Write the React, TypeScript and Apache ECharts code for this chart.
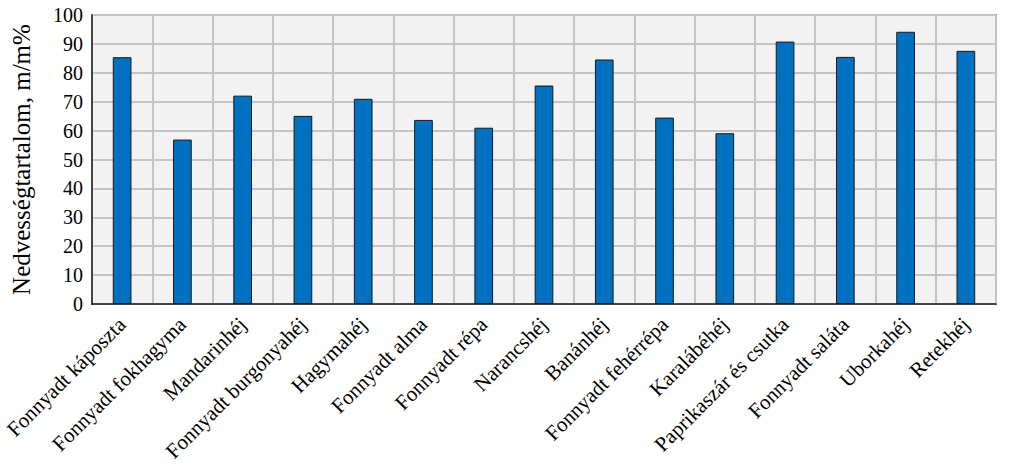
import { useEffect, useRef } from 'react';
import * as echarts from 'echarts';

const categories = [
  'Fonnyadt káposzta',
  'Fonnyadt fokhagyma',
  'Mandarinhéj',
  'Fonnyadt burgonyahéj',
  'Hagymahéj',
  'Fonnyadt alma',
  'Fonnyadt répa',
  'Narancshéj',
  'Banánhéj',
  'Fonnyadt fehérrépa',
  'Karalábéhéj',
  'Paprikaszár és csutka',
  'Fonnyadt saláta',
  'Uborkahéj',
  'Retekhéj',
];

const moisture = [85.4, 56.9, 72.1, 65.1, 71.0, 63.7, 61.0, 75.6, 84.6, 64.5, 59.1, 90.8, 85.5, 94.2, 87.6];

const yTicks = { min: 0, max: 100, interval: 10 };

const FONT = '"Liberation Serif", "Times New Roman", serif';

export default function App() {
  const chartRef = useRef<HTMLDivElement>(null);

  useEffect(() => {
    document.body.style.margin = '0';
    if (!chartRef.current) return;
    const chart = echarts.init(chartRef.current, null, { renderer: 'svg' });

    chart.setOption({
      animation: false,
      backgroundColor: '#ffffff',
      grid: {
        left: 92,
        right: 27,
        top: 15,
        bottom: 161,
        show: true,
        backgroundColor: '#f2f2f2',
        borderColor: '#1a1a1a',
        borderWidth: 1.5,
      },
      xAxis: {
        type: 'category',
        data: categories,
        axisLine: { show: true, lineStyle: { color: '#1a1a1a', width: 1.5 } },
        axisTick: { show: false },
        splitLine: { show: true, lineStyle: { color: '#c4c4c4', width: 2 } },
        axisLabel: {
          interval: 0,
          rotate: 45,
          margin: 17,
          color: '#000',
          fontFamily: FONT,
          fontSize: 21,
        },
      },
      yAxis: {
        type: 'value',
        min: yTicks.min,
        max: yTicks.max,
        interval: yTicks.interval,
        name: 'Nedvességtartalom, m/m%',
        nameLocation: 'middle',
        nameGap: 58,
        nameTextStyle: { color: '#000', fontFamily: FONT, fontSize: 25 },
        axisLine: { show: true, lineStyle: { color: '#1a1a1a', width: 1.5 } },
        axisTick: { show: false },
        splitLine: { show: true, lineStyle: { color: '#c4c4c4', width: 2 } },
        axisLabel: { color: '#000', fontFamily: FONT, fontSize: 20, margin: 9 },
      },
      series: [
        {
          type: 'bar',
          data: moisture,
          barWidth: '31%',
          itemStyle: { color: '#0070c0', borderColor: '#1a1a1a', borderWidth: 1 },
        },
      ],
    });

    return () => chart.dispose();
  }, []);

  return <div ref={chartRef} style={{ width: 1023, height: 465 }} />;
}
